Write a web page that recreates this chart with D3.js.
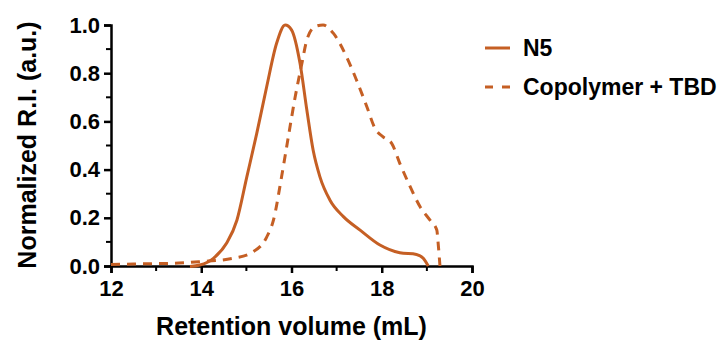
<!DOCTYPE html>
<html><head><meta charset="utf-8">
<script src="https://cdn.jsdelivr.net/npm/d3@7"></script>
<style>body{margin:0;background:#fff}svg{display:block}text{font-family:"Liberation Sans",Arial,sans-serif;font-weight:bold;fill:#000}</style>
</head><body>
<script>
const xTicks = [12, 14, 16, 18, 20];
const yTicks = [0, 0.2, 0.4, 0.6, 0.8, 1.0];
const seriesNames = ["N5", "Copolymer + TBD"];
const n5X = [13.75, 13.97, 14.27, 14.56, 14.79, 15.01, 15.23, 15.45, 15.67, 15.86, 16.0, 16.19, 16.34, 16.48, 16.63, 16.85, 17.15, 17.52, 17.96, 18.4, 18.77, 18.92, 19.03];
const n5Y = [-0.002, 0.004, 0.032, 0.094, 0.19, 0.37, 0.55, 0.744, 0.924, 1.0, 0.98, 0.84, 0.647, 0.48, 0.37, 0.274, 0.205, 0.149, 0.087, 0.055, 0.048, 0.032, 0.0];
const copX = [12.0, 12.5, 13.0, 13.5, 13.97, 14.71, 15.15, 15.45, 15.6, 15.78, 15.93, 16.08, 16.23, 16.34, 16.52, 16.7, 16.93, 17.22, 17.44, 17.67, 17.85, 18.03, 18.22, 18.4, 18.63, 18.85, 19.07, 19.22, 19.25, 19.29];
const copY = [0.006, 0.008, 0.01, 0.012, 0.018, 0.032, 0.059, 0.12, 0.19, 0.37, 0.536, 0.70, 0.84, 0.938, 0.993, 1.0, 0.965, 0.868, 0.772, 0.661, 0.571, 0.536, 0.509, 0.426, 0.329, 0.246, 0.19, 0.149, 0.094, 0.0];

const W = 727, H = 342, color = "#c55f24";
const svg = d3.select("body").append("svg").attr("width", W).attr("height", H);
const x = d3.scaleLinear().domain([12, 20]).range([111, 472]);
const y = d3.scaleLinear().domain([0, 1]).range([266, 25]);

// minor ticks
const xMinor = d3.range(13, 20, 2);
const yMinor = d3.range(0.1, 1.0, 0.2);
svg.append("g").selectAll("line").data(xMinor).join("line")
  .attr("x1", d => x(d)).attr("x2", d => x(d)).attr("y1", 266).attr("y2", 271)
  .attr("stroke", "#000").attr("stroke-width", 2);
svg.append("g").selectAll("line").data(yMinor).join("line")
  .attr("y1", d => y(d)).attr("y2", d => y(d)).attr("x1", 111).attr("x2", 106)
  .attr("stroke", "#000").attr("stroke-width", 2);

const xAxis = svg.append("g").attr("transform", "translate(0,266)")
  .call(d3.axisBottom(x).tickValues(xTicks).tickSize(7).tickPadding(4).tickFormat(d3.format("d")));
const yAxis = svg.append("g").attr("transform", "translate(111,0)")
  .call(d3.axisLeft(y).tickValues(yTicks).tickSize(7).tickPadding(4).tickFormat(d3.format(".1f")));
[xAxis, yAxis].forEach(a => {
  a.select(".domain").attr("stroke", "#000").attr("stroke-width", 2.5);
  a.selectAll(".tick line").attr("stroke", "#000").attr("stroke-width", 2.5);
  a.selectAll(".tick text").attr("font-size", 22).attr("font-weight", "bold")
   .attr("font-family", '"Liberation Sans",Arial,sans-serif').attr("fill", "#000");
});
xAxis.selectAll(".tick text").attr("dy", "0.85em");

const line = d3.line().x(d => x(d[0])).y(d => y(d[1])).curve(d3.curveMonotoneX);
const n5 = n5X.map((v, i) => [v, n5Y[i]]);
const cop = copX.map((v, i) => [v, copY[i]]);
svg.append("path").datum(cop).attr("d", line).attr("fill", "none")
  .attr("stroke", color).attr("stroke-width", 3).attr("stroke-dasharray", "9,7");
svg.append("path").datum(n5).attr("d", line).attr("fill", "none")
  .attr("stroke", color).attr("stroke-width", 3);

// axis titles
svg.append("text").attr("x", 291.5).attr("y", 335).attr("text-anchor", "middle")
  .attr("font-size", 25).text("Retention volume (mL)");
svg.append("text").attr("transform", "translate(36,145) rotate(-90)").attr("text-anchor", "middle")
  .attr("font-size", 25).text("Normalized R.I. (a.u.)");

// legend
const leg = svg.append("g");
const rows = [{y: 48, dash: null}, {y: 87, dash: "8,9"}];
rows.forEach((r, i) => {
  leg.append("line").attr("x1", 485).attr("x2", 510).attr("y1", r.y).attr("y2", r.y)
    .attr("stroke", color).attr("stroke-width", 3).attr("stroke-dasharray", r.dash);
  leg.append("text").attr("x", 523).attr("y", r.y + 8).attr("font-size", 23).text(seriesNames[i]);
});
</script>
</body></html>
